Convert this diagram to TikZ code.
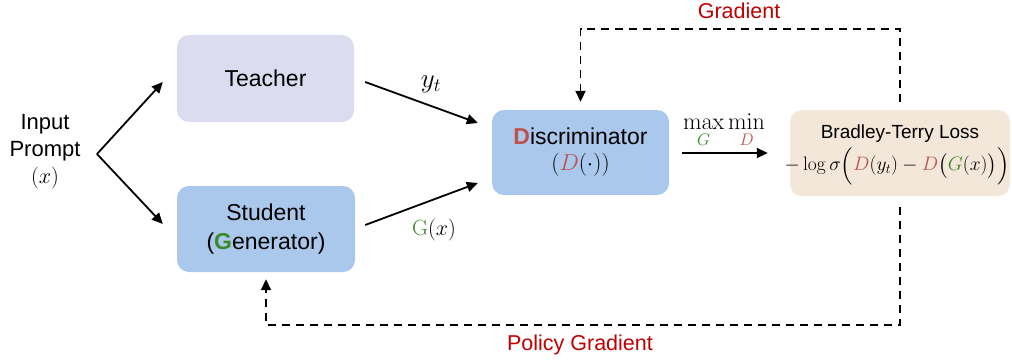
\documentclass[tikz,border=0pt]{standalone}
\usepackage{fix-cm}
\usepackage{amsmath}
\usepackage[no-math]{fontspec}
\setmainfont{Liberation Sans}
\usetikzlibrary{arrows.meta,calc}
\definecolor{teachfill}{HTML}{DCDCF0}
\definecolor{bluefill}{HTML}{A9C8EC}
\definecolor{lossfill}{HTML}{F3E7D9}
\definecolor{dred}{HTML}{C0504D}
\definecolor{ggreen}{HTML}{3A8A2A}
\definecolor{labred}{HTML}{C00000}
\tikzset{
  box/.style={rounded corners=12pt, inner sep=0pt, align=center, font=\fontsize{23}{29}\selectfont},
  arr/.style={line width=1.8pt, -{Triangle[length=11pt,width=10pt]}},
  dasharr/.style={line width=1.8pt, dash pattern=on 8pt off 6pt, -{Triangle[length=11pt,width=10pt]}},
  lab/.style={font=\fontsize{21.5}{25}\selectfont, text=labred},
  mlab/.style={font=\fontsize{22}{26}\selectfont}
}
\begin{document}
\begin{tikzpicture}[x=1pt,y=-1pt]
\useasboundingbox (0,0) rectangle (1012,360);
\node[box, fill=teachfill, minimum width=177pt, minimum height=87pt] (teacher) at (265.5,78.5) {Teacher};
\node[box, fill=bluefill, minimum width=178pt, minimum height=86pt] (student) at (266,229) {Student\\(\textbf{\color{ggreen}G}enerator)};
\node[box, fill=bluefill, minimum width=177pt, minimum height=85pt, font=\fontsize{23}{26}\selectfont] (disc) at (580.5,152.5) {\textbf{\color{dred}D}iscriminator\\$({\color{dred}D}(\cdot))$};
\node[box, fill=lossfill, minimum width=220pt, minimum height=86pt] (bt) at (900,153) {};
\node[font=\fontsize{19}{23}\selectfont, inner sep=0pt] (bttitle) at ($(bt)+(0,-19)$) {Bradley-Terry Loss};
\node[font=\fontsize{19.5}{22}\selectfont, inner sep=0pt] (btformula) at ($(bt)+(-3,13)$) {$-\log\sigma\Bigl({\color{dred}D}(y_t)-{\color{dred}D}\bigl({\color{ggreen}G}(x)\bigr)\Bigr)$};
\node[align=center, font=\fontsize{22}{27}\selectfont] (input) at (45,152) {Input\\Prompt\\$(x)$};
\coordinate (apex) at (97,154);
\draw[arr] (apex) -- ($(teacher.west)+(-14,3.5)$);
\draw[arr] (apex) -- ($(student.west)+(-14,-5)$);
\draw[arr] ($(teacher.east)+(11,3.5)$) -- ($(disc.west)+(-14,-29.5)$);
\draw[arr] ($(student.east)+(10,-4)$) -- ($(disc.west)+(-14,30.5)$);
\draw[arr] ($(disc.east)+(13,0.5)$) -- ($(bt.west)+(-22,0)$);
\node[font=\fontsize{27}{30}\selectfont] (yt) at (431,84) {$y_t$};
\node[mlab] (gx) at (434,230) {${\color{ggreen}\mathrm{G}}(x)$};
\node[font=\fontsize{24}{28}\selectfont] (maxmin) at (724,131) {$\displaystyle\max_{\color{ggreen}G}\min_{\color{dred}D}$};
\draw[dasharr] ([yshift=8pt]bt.north) -- ++(0,-73) -| ([yshift=8pt]disc.north);
\draw[dasharr] ([yshift=-11pt]bt.south) -- ++(0,118) -| ([yshift=-7pt]student.south);
\node[lab] (glab) at (739,11) {Gradient};
\node[lab] (plab) at (580,345) {Policy Gradient};
\end{tikzpicture}
\end{document}
